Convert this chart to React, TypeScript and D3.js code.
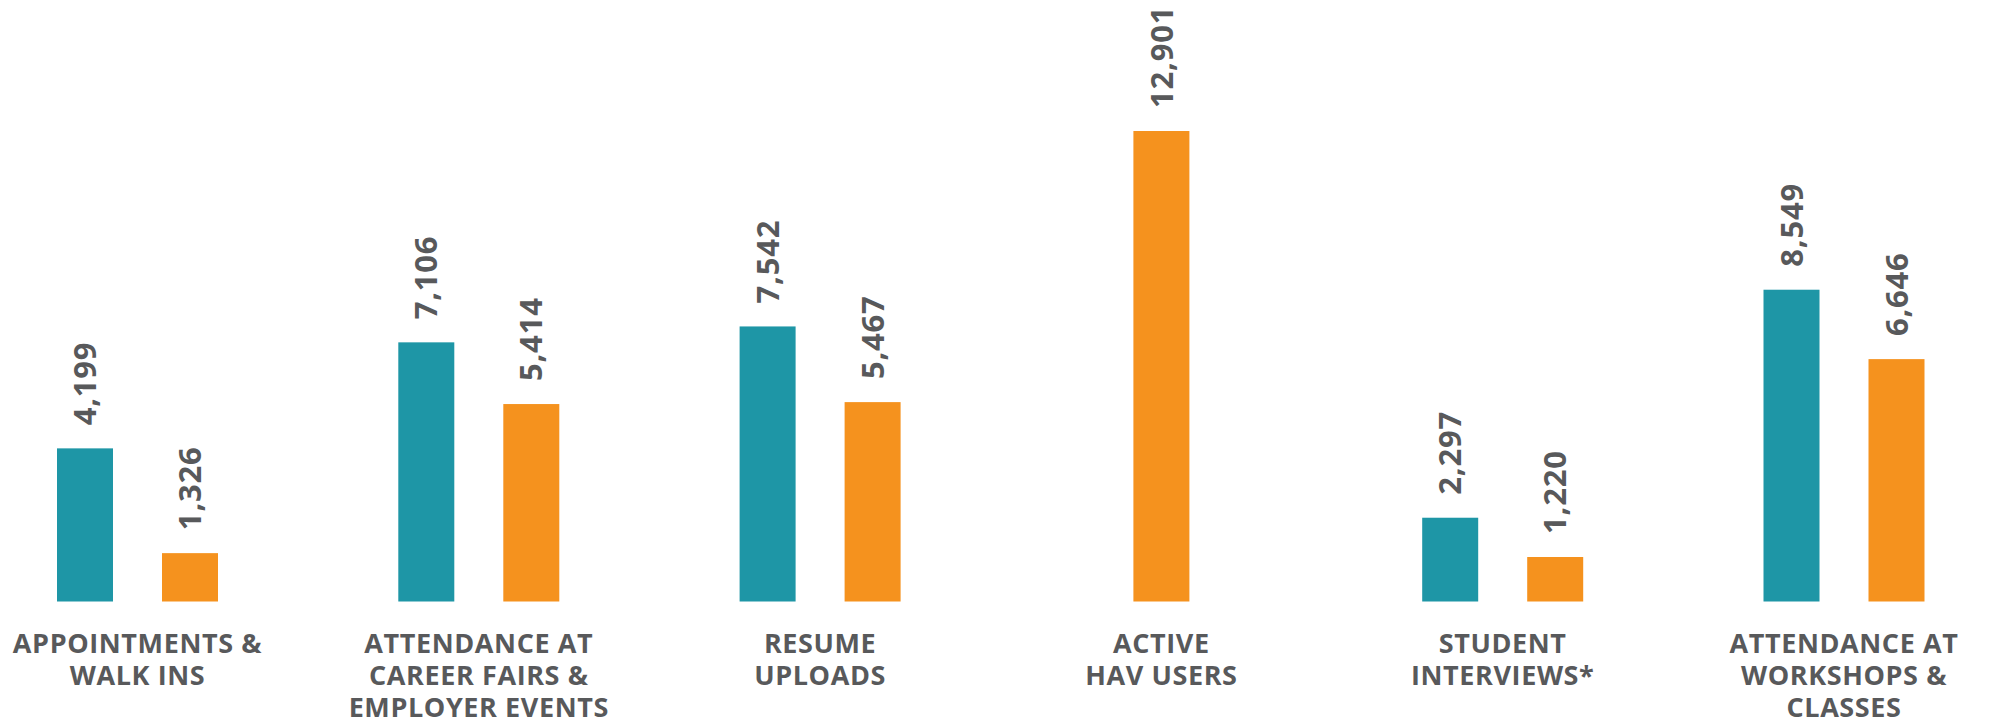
import React from "react";
import * as d3 from "d3";

const categories: string[][] = [
  ["APPOINTMENTS &", "WALK INS"],
  ["ATTENDANCE AT", "CAREER FAIRS &", "EMPLOYER EVENTS"],
  ["RESUME", "UPLOADS"],
  ["ACTIVE", "HAV USERS"],
  ["STUDENT", "INTERVIEWS*"],
  ["ATTENDANCE AT", "WORKSHOPS &", "CLASSES"],
];
const tealValues: (number | null)[] = [4199, 7106, 7542, null, 2297, 8549];
const orangeValues: (number | null)[] = [1326, 5414, 5467, 12901, 1220, 6646];

const W = 1990;
const H = 722;
const TEAL = "#1e96a6";
const ORANGE = "#f5921e";
const GRAY = "#58595b";
const FONT = "'Open Sans', sans-serif";

export default function App() {
  const x = d3
    .scalePoint<number>()
    .domain(categories.map((_, i) => i))
    .range([137.5, 1844]);
  const y = d3.scaleLinear().domain([0, 12901]).range([601.5, 131]);
  const barW = 56;
  const offset = 52.5;
  const fmt = d3.format(",");
  const valFont = 31;

  const bars: { cx: number; v: number; color: string }[] = [];
  categories.forEach((_, i) => {
    const c = x(i)!;
    const t = tealValues[i];
    const o = orangeValues[i];
    if (t != null && o != null) {
      bars.push({ cx: c - offset, v: t, color: TEAL });
      bars.push({ cx: c + offset, v: o, color: ORANGE });
    } else if (o != null) {
      bars.push({ cx: c, v: o, color: ORANGE });
    } else if (t != null) {
      bars.push({ cx: c, v: t, color: TEAL });
    }
  });

  return (
    <svg
      width={W}
      height={H}
      style={{ position: "absolute", left: 0, top: 0, background: "#fff" }}
    >
      {bars.map((b, i) => (
        <g key={i}>
          <rect
            x={b.cx - barW / 2}
            y={y(b.v)}
            width={barW}
            height={y(0) - y(b.v)}
            fill={b.color}
          />
          <text
            transform={`translate(${b.cx + valFont * 0.36},${y(b.v) - 23}) rotate(-90)`}
            fontFamily={FONT}
            fontWeight={700}
            fontSize={valFont}
            letterSpacing={0.8}
            fill={GRAY}
            textAnchor="start"
          >
            {fmt(b.v)}
          </text>
        </g>
      ))}
      {categories.map((lines, i) => (
        <text
          key={i}
          x={x(i)}
          y={653}
          fontFamily={FONT}
          fontWeight={700}
          fontSize={27}
          letterSpacing={0.6}
          fill={GRAY}
          textAnchor="middle"
        >
          {lines.map((l, j) => (
            <tspan key={j} x={x(i)} y={653 + j * 32}>
              {l}
            </tspan>
          ))}
        </text>
      ))}
    </svg>
  );
}
